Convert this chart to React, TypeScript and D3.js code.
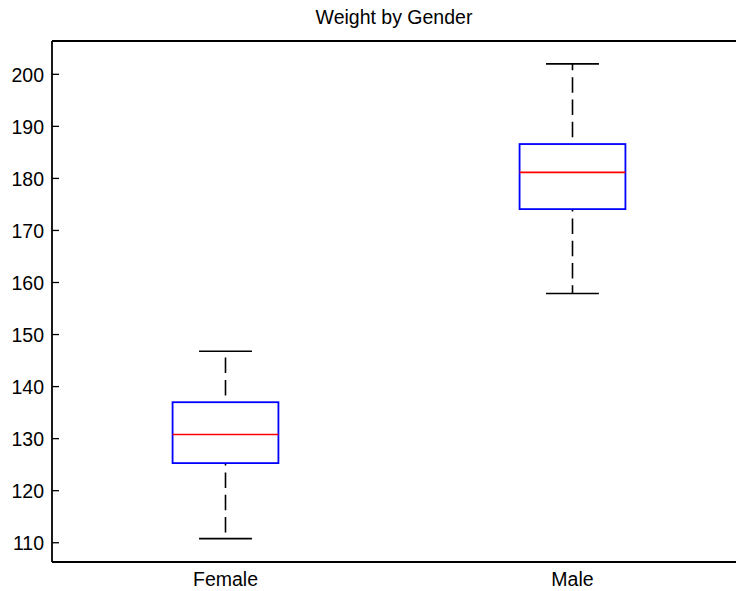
import React from 'react';
import * as d3 from 'd3';

// values
const categories = ['Female', 'Male'];
const whiskerLow = [110.8, 157.9];
const q1 = [125.3, 174.1];
const medians = [130.8, 181.15];
const q3 = [137.0, 186.6];
const whiskerHigh = [146.8, 202.0];
const yTicks = [110, 120, 130, 140, 150, 160, 170, 180, 190, 200];
const title = 'Weight by Gender';

const W = 736, H = 591;
const left = 52, top = 41, bottom = 562, right = 736;
const font = '"Liberation Sans", Arial, Helvetica, sans-serif';

function App() {
    const x = d3.scaleLinear().domain([0.5, 2.5]).range([left, 746]);
    const y = d3.scaleLinear().domain([106.3, 206.4]).range([bottom, top]);

    const boxW = x(1.305) - x(1); // box width in px
    const capW = boxW / 2;

    return (
        <svg width={W} height={H} style={{ position: 'absolute', left: 0, top: 0, background: '#fff' }}
            fontFamily={font}>
            <rect x={0} y={0} width={W} height={H} fill="#fff" />
            <text x={(left + right) / 2} y={24} textAnchor="middle" fontSize={19.5} fill="#000">{title}</text>

            {/* axes frame */}
            <line x1={left} x2={right + 2} y1={top} y2={top} stroke="#000" strokeWidth={1.8} />
            <line x1={left} x2={right + 2} y1={bottom} y2={bottom} stroke="#000" strokeWidth={1.8} />
            <line x1={left} x2={left} y1={top} y2={bottom} stroke="#000" strokeWidth={1.8} />

            {yTicks.map(t => (
                <g key={t}>
                    <line x1={left} x2={left + 7} y1={y(t)} y2={y(t)} stroke="#000" strokeWidth={1.3} />
                    <text x={left - 8} y={y(t)} dy="0.37em" textAnchor="end" fontSize={19.5} fill="#000">{t}</text>
                </g>
            ))}

            {categories.map((c, i) => {
                const cx = x(i + 1);
                return (
                    <g key={c}>
                        {/* whiskers, drawn from the box outward */}
                        <line x1={cx} x2={cx} y1={y(q3[i])} y2={y(whiskerHigh[i])} stroke="#000" strokeWidth={1.6}
                            strokeDasharray="15.5 6.8" strokeDashoffset={15.5} />
                        <line x1={cx} x2={cx} y1={y(q1[i])} y2={y(whiskerLow[i])} stroke="#000" strokeWidth={1.6}
                            strokeDasharray="15.5 6.8" strokeDashoffset={13} />
                        <line x1={cx - capW / 2} x2={cx + capW / 2} y1={y(whiskerHigh[i])} y2={y(whiskerHigh[i])}
                            stroke="#000" strokeWidth={1.6} />
                        <line x1={cx - capW / 2} x2={cx + capW / 2} y1={y(whiskerLow[i])} y2={y(whiskerLow[i])}
                            stroke="#000" strokeWidth={1.6} />
                        <rect x={cx - boxW / 2} y={y(q3[i])} width={boxW} height={y(q1[i]) - y(q3[i])}
                            fill="none" stroke="#0000ff" strokeWidth={1.8} />
                        <line x1={cx - boxW / 2} x2={cx + boxW / 2} y1={y(medians[i])} y2={y(medians[i])}
                            stroke="#ff0000" strokeWidth={1.6} />
                        <text x={cx} y={bottom + 23.5} textAnchor="middle" fontSize={19.5} fill="#000">{c}</text>
                    </g>
                );
            })}
        </svg>
    );
}

export default App;
